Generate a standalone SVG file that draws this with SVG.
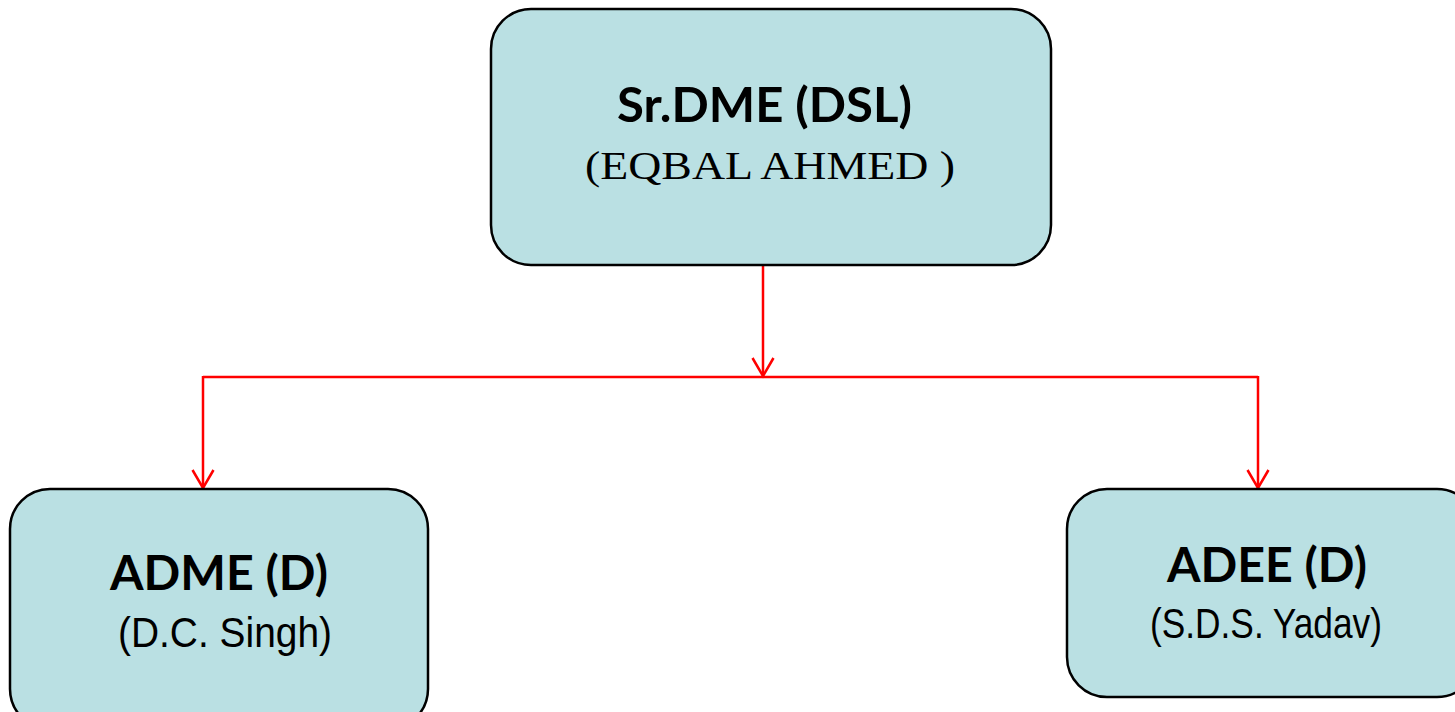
<svg xmlns="http://www.w3.org/2000/svg" width="1455" height="712" viewBox="0 0 1455 712">
<style>
.box{fill:#BAE0E3;stroke:#000;stroke-width:2.5}
.title{font-family:"Lato","DejaVu Sans",sans-serif;font-weight:bold;font-size:47px;fill:#000;text-anchor:middle}
.serif{font-family:"Liberation Serif",serif;font-size:41px;fill:#000;text-anchor:middle}
.sans{font-family:"Liberation Sans",sans-serif;font-size:42px;fill:#000;text-anchor:middle}
.conn{fill:none;stroke:#FF0000;stroke-width:2.5}
</style>
<defs>
<marker id="arr" markerWidth="22" markerHeight="24" refX="19" refY="12" orient="auto" markerUnits="userSpaceOnUse" viewBox="0 0 22 24">
<path d="M1,1.5 L19,12 L1,22.5" fill="none" stroke="#FF0000" stroke-width="2.5"/>
</marker>
</defs>
<rect width="1455" height="712" fill="#fff"/>
<g id="connectors">
<line class="conn" x1="763" y1="265" x2="763" y2="376" marker-end="url(#arr)"/>
<line class="conn" x1="203" y1="377" x2="1258" y2="377"/>
<path class="conn" d="M203,376 L203,488" marker-end="url(#arr)"/>
<path class="conn" d="M1258,376 L1258,488" marker-end="url(#arr)"/>
</g>
<g id="node-srdme">
<rect class="box" x="491" y="9" width="560" height="256" rx="40"/>
<text class="title" x="764.5" y="122" textLength="295" lengthAdjust="spacingAndGlyphs">Sr.DME (DSL)</text>
<text class="serif" x="770" y="179" textLength="370" lengthAdjust="spacingAndGlyphs">(EQBAL AHMED )</text>
</g>
<g id="node-adme">
<rect class="box" x="10" y="489" width="418" height="240" rx="40"/>
<text class="title" x="219" y="590" textLength="218" lengthAdjust="spacingAndGlyphs">ADME (D)</text>
<text class="sans" x="225" y="647" textLength="214" lengthAdjust="spacingAndGlyphs">(D.C. Singh)</text>
</g>
<g id="node-adee">
<rect class="box" x="1067" y="489" width="410" height="208" rx="40"/>
<text class="title" x="1267" y="582" textLength="200" lengthAdjust="spacingAndGlyphs">ADEE (D)</text>
<text class="sans" x="1266" y="638" textLength="232" lengthAdjust="spacingAndGlyphs">(S.D.S. Yadav)</text>
</g>
</svg>
